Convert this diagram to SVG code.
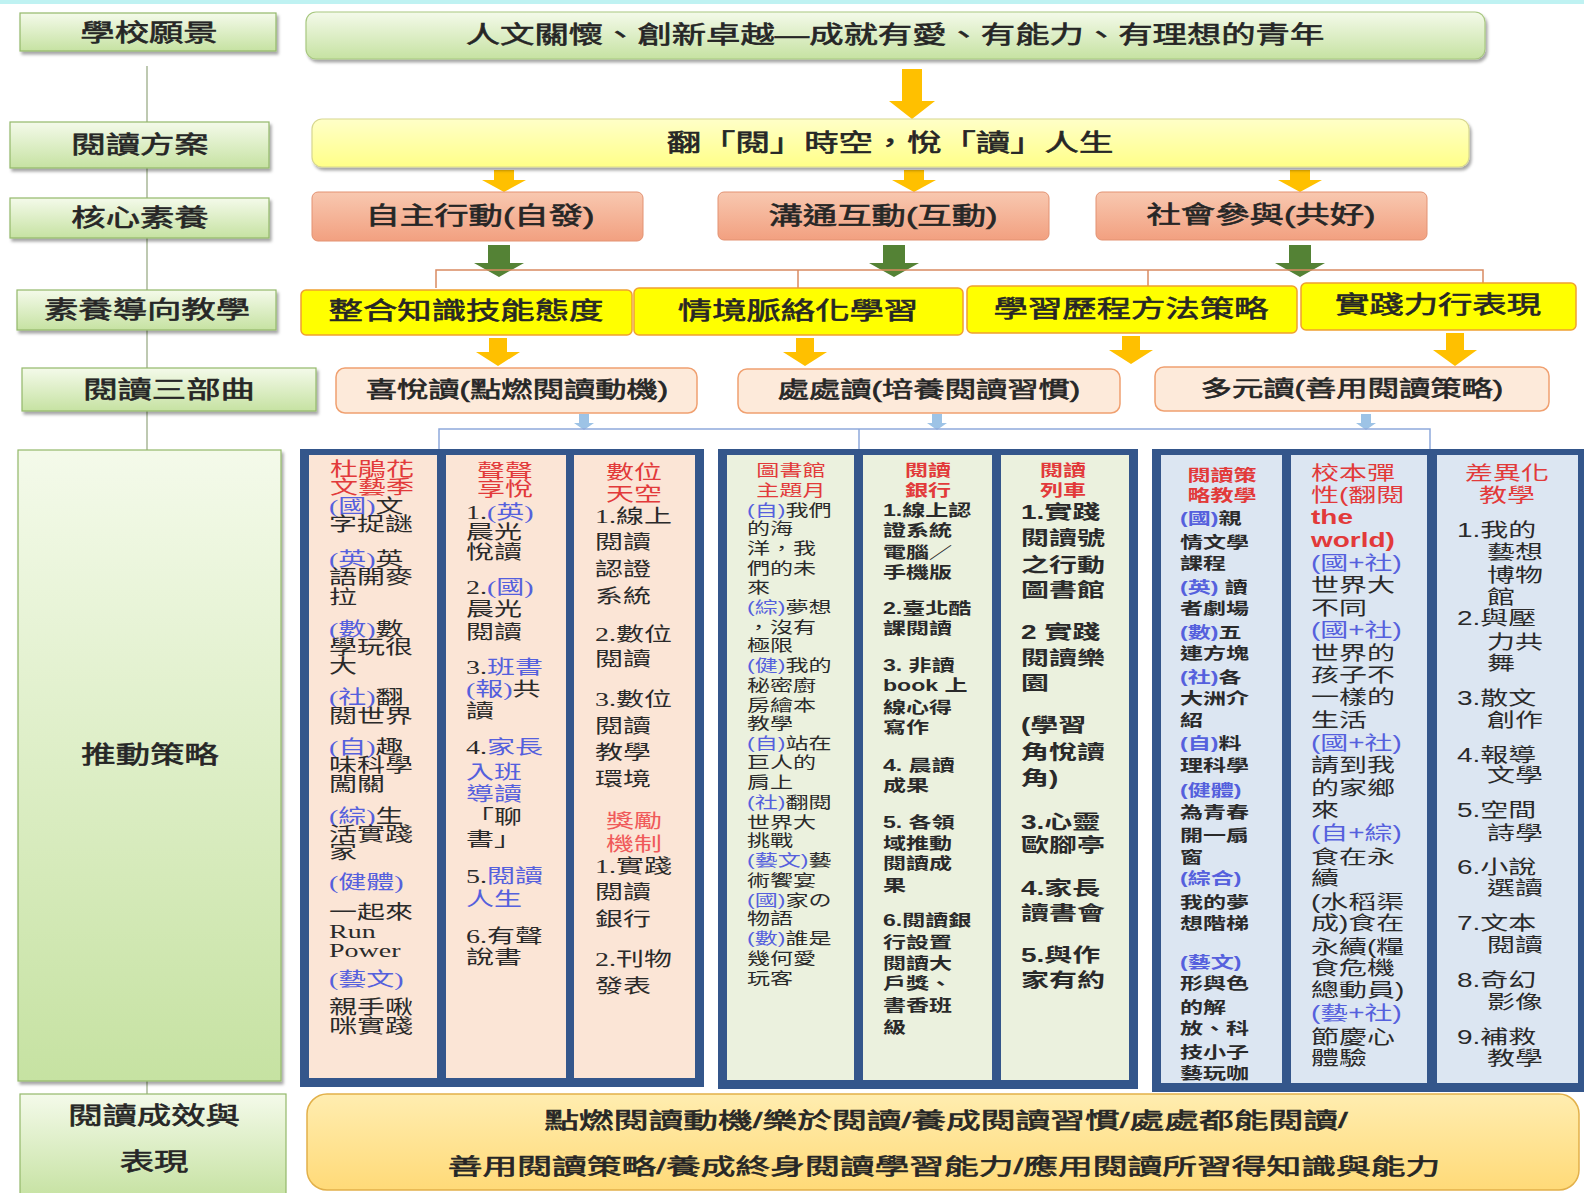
<svg xmlns="http://www.w3.org/2000/svg" width="1584" height="1193" viewBox="0 0 1584 1193">
<defs>
<linearGradient id="gGreen" x1="0" y1="0" x2="0" y2="1"><stop offset="0" stop-color="#F4FAEA"/><stop offset="1" stop-color="#C6E2A2"/></linearGradient>
<linearGradient id="gYel" x1="0" y1="0" x2="0" y2="1"><stop offset="0" stop-color="#FFFFC8"/><stop offset="1" stop-color="#FFFF88"/></linearGradient>
<linearGradient id="gSal" x1="0" y1="0" x2="0" y2="1"><stop offset="0" stop-color="#F8C8B0"/><stop offset="1" stop-color="#F2A080"/></linearGradient>
<linearGradient id="gBot" x1="0" y1="0" x2="0" y2="1"><stop offset="0" stop-color="#FFEDB0"/><stop offset="1" stop-color="#FFDA78"/></linearGradient>
<filter id="sh" x="-5%" y="-20%" width="115%" height="160%"><feDropShadow dx="2" dy="3" stdDeviation="1.5" flood-color="#000" flood-opacity="0.35"/></filter>
<style>
.lab{fill:url(#gGreen);stroke:#93B86A;stroke-width:1.2}
.h{font-family:"Liberation Sans","Noto Sans CJK TC",sans-serif;font-weight:normal;font-size:23.7px;fill:#262626;stroke:#262626;stroke-width:0.6;text-anchor:middle;dominant-baseline:central}
.h2{font-family:"Liberation Sans","Noto Sans CJK TC",sans-serif;font-weight:normal;font-size:21.6px;fill:#262626;stroke:#262626;stroke-width:0.6;text-anchor:middle;dominant-baseline:central}
.teach{fill:#FFFF00;stroke:#F0A030;stroke-width:1.5}
.tri{fill:#FDEADA;stroke:#F0A070;stroke-width:1.5}
.core{fill:url(#gSal);stroke:#E39272;stroke-width:1}
.arO{fill:#FFC000}
.arG{fill:#548235}
.arB{fill:#9DC3E6}
.lnO{stroke:#D98A62;stroke-width:1.5;fill:none}
.lnB{stroke:#8EA9DB;stroke-width:1.5;fill:none}
.lnL{stroke:#A9B898;stroke-width:1.5;fill:none}
.frame{fill:#34568B}
.c1{fill:#FBE5D6}.c2{fill:#EBF1DE}.c3{fill:#DCE6F2}
.big{font-family:"Liberation Serif","Noto Sans CJK TC",serif;font-size:19.3px;fill:#2a2a2a;dominant-baseline:central}
.bigs{font-family:"Liberation Sans","Noto Sans CJK TC",sans-serif;font-size:19.3px;fill:#2a2a2a;dominant-baseline:central}
.sm{font-family:"Liberation Sans","Noto Sans CJK TC",sans-serif;font-size:15.9px;fill:#2a2a2a;dominant-baseline:central}
.smb{font-family:"Liberation Sans","Noto Sans CJK TC",sans-serif;font-size:15.9px;font-weight:bold;fill:#2a2a2a;dominant-baseline:central}
.r{fill:#E23A3A}
.rl{fill:#F05A5A}
.b{fill:#5560DD}
.t{text-anchor:middle}
.bd{font-weight:bold}
</style>
</defs>
<rect x="0" y="0" width="1584" height="1193" fill="#FFFFFF"/>
<rect x="0" y="0" width="1584" height="4" fill="#BFF2F2"/>

<g id="connectors">
<path class="lnL" d="M147 66V122M147 168V198M147 238V290M147 330V368M147 411V450M147 1081V1094"/>
<polygon class="arO" points="902,69 922,69 922,101 935,101 912,119 889,101 902,101"/>
<polygon class="arO" points="494,170 514,170 514,180 526,180 504,192 482,180 494,180"/>
<polygon class="arO" points="904,170 924,170 924,180 936,180 914,192 892,180 904,180"/>
<polygon class="arO" points="1290,170 1310,170 1310,180 1322,180 1300,192 1278,180 1290,180"/>
<polygon class="arG" points="488,245 510,245 510,263 524,263 499,277 474,263 488,263"/>
<polygon class="arG" points="883,245 905,245 905,263 919,263 894,277 869,263 883,263"/>
<polygon class="arG" points="1289,245 1311,245 1311,263 1325,263 1300,277 1275,263 1289,263"/>
<path class="lnO" d="M436 288V270H1483V285M798 270V288M1148 270V287"/>
<polygon class="arO" points="489,338 507,338 507,352 520,352 498,366 476,352 489,352"/>
<polygon class="arO" points="796,338 814,338 814,352 827,352 805,366 783,352 796,352"/>
<polygon class="arO" points="1122,336 1140,336 1140,350 1153,350 1131,364 1109,350 1122,350"/>
<polygon class="arO" points="1446,333 1464,333 1464,350 1477,350 1455,366 1433,350 1446,350"/>
<polygon class="arB" points="579,414 589,414 589,423 594,423 584,430 574,423 579,423"/>
<polygon class="arB" points="932,414 942,414 942,423 947,423 937,430 927,423 932,423"/>
<polygon class="arB" points="1361,414 1371,414 1371,423 1376,423 1366,430 1356,423 1361,423"/>
<path class="lnB" d="M439 450V429H1430V450M859 429V450"/>
</g>

<g id="lab-vision"><rect class="lab" filter="url(#sh)" x="20" y="13" width="256" height="38"/><text class="h" transform="translate(149,33) scale(1.45,1)">學校願景</text></g>
<g id="lab-plan"><rect class="lab" filter="url(#sh)" x="10" y="122" width="259" height="46"/><text class="h" transform="translate(140,145) scale(1.45,1)">閱讀方案</text></g>
<g id="lab-core"><rect class="lab" filter="url(#sh)" x="10" y="198" width="259" height="40"/><text class="h" transform="translate(140,218) scale(1.45,1)">核心素養</text></g>
<g id="lab-teach"><rect class="lab" filter="url(#sh)" x="17" y="290" width="259" height="40"/><text class="h" transform="translate(147,310) scale(1.45,1)">素養導向教學</text></g>
<g id="lab-tri"><rect class="lab" filter="url(#sh)" x="22" y="368" width="294" height="43"/><text class="h" transform="translate(169,390) scale(1.45,1)">閱讀三部曲</text></g>
<g id="lab-strategy"><rect class="lab" filter="url(#sh)" x="18" y="450" width="263" height="631"/><text class="h" transform="translate(150,755) scale(1.45,1)">推動策略</text></g>
<g id="lab-result"><rect class="lab" x="20" y="1094" width="266" height="104"/><text class="h" transform="translate(154,1116) scale(1.45,1)">閱讀成效與</text><text class="h" transform="translate(154,1162) scale(1.45,1)">表現</text></g>

<g id="vision"><rect x="306" y="12" width="1179" height="47" rx="10" fill="url(#gGreen)" stroke="#A8C880" stroke-width="1.2" filter="url(#sh)"/><text class="h" transform="translate(895,35) scale(1.45,1)">人文關懷、創新卓越—成就有愛、有能力、有理想的青年</text></g>
<g id="plan"><rect x="312" y="119" width="1157" height="48" rx="10" fill="url(#gYel)" stroke="#D8D890" stroke-width="1.2" filter="url(#sh)"/><text class="h" transform="translate(890,143) scale(1.45,1)">翻「閱」時空，悅「讀」人生</text></g>

<g id="core1"><rect class="core" x="312" y="192" width="331" height="49" rx="6"/><text class="h" transform="translate(480,216) scale(1.45,1)">自主行動(自發)</text></g>
<g id="core2"><rect class="core" x="718" y="192" width="331" height="48" rx="6"/><text class="h" transform="translate(883,216) scale(1.45,1)">溝通互動(互動)</text></g>
<g id="core3"><rect class="core" x="1096" y="192" width="331" height="48" rx="6"/><text class="h" transform="translate(1261,215) scale(1.45,1)">社會參與(共好)</text></g>

<g id="teach1"><rect class="teach" x="301" y="290" width="331" height="45" rx="5"/><text class="h" transform="translate(466,311) scale(1.45,1)">整合知識技能態度</text></g>
<g id="teach2"><rect class="teach" x="634" y="288" width="329" height="47" rx="5"/><text class="h" transform="translate(798,311) scale(1.45,1)">情境脈絡化學習</text></g>
<g id="teach3"><rect class="teach" x="967" y="286" width="330" height="47" rx="5"/><text class="h" transform="translate(1131,309) scale(1.45,1)">學習歷程方法策略</text></g>
<g id="teach4"><rect class="teach" x="1301" y="283" width="275" height="47" rx="5"/><text class="h" transform="translate(1438,305) scale(1.45,1)">實踐力行表現</text></g>

<g id="tri1"><rect class="tri" x="336" y="368" width="361" height="45" rx="9"/><text class="h2" transform="translate(517,390) scale(1.45,1)">喜悅讀(點燃閱讀動機)</text></g>
<g id="tri2"><rect class="tri" x="738" y="369" width="382" height="44" rx="9"/><text class="h2" transform="translate(929,390) scale(1.45,1)">處處讀(培養閱讀習慣)</text></g>
<g id="tri3"><rect class="tri" x="1155" y="367" width="394" height="44" rx="9"/><text class="h2" transform="translate(1352,389) scale(1.45,1)">多元讀(善用閱讀策略)</text></g>

<g id="group1">
<rect class="frame" x="300" y="449" width="404" height="638"/>
<rect class="c1" x="309" y="455" width="128" height="623"/>
<rect class="c1" x="446" y="455" width="120" height="623"/>
<rect class="c1" x="574" y="455" width="121" height="623"/>
<g class="big" transform="translate(329,0) scale(1.45,1)">
<text class="big r t" x="29.7" y="470">杜鵑花</text>
<text class="big r t" x="29.7" y="488">文藝季</text>
<text class="big" y="507"><tspan class="b">(國)</tspan>文</text>
<text class="big" y="525">字捉謎</text>
<text class="big" y="560"><tspan class="b">(英)</tspan>英</text>
<text class="big" y="578">語開麥</text>
<text class="big" y="598">拉</text>
<text class="big" y="630"><tspan class="b">(數)</tspan>數</text>
<text class="big" y="648">學玩很</text>
<text class="big" y="667">大</text>
<text class="big" y="698"><tspan class="b">(社)</tspan>翻</text>
<text class="big" y="717">閱世界</text>
<text class="big" y="748"><tspan class="b">(自)</tspan>趣</text>
<text class="big" y="766">味科學</text>
<text class="big" y="785">闖關</text>
<text class="big" y="817"><tspan class="b">(綜)</tspan>生</text>
<text class="big" y="835">活實踐</text>
<text class="big" y="853">家</text>
<text class="big b" y="883">(健體)</text>
<text class="big" y="913">一起來</text>
<text class="big" y="932">Run</text>
<text class="big" y="951">Power</text>
<text class="big b" y="980">(藝文)</text>
<text class="big" y="1008">親手啾</text>
<text class="big" y="1027">咪實踐</text>
</g>
<g transform="translate(466,0) scale(1.45,1)">
<text class="big r t" x="26.9" y="472">聲聲</text>
<text class="big r t" x="26.9" y="490">享悅</text>
<text class="big" y="513">1.<tspan class="b">(英)</tspan></text>
<text class="big" y="533">晨光</text>
<text class="big" y="553">悅讀</text>
<text class="big" y="588">2.<tspan class="b">(國)</tspan></text>
<text class="big" y="610">晨光</text>
<text class="big" y="633">閱讀</text>
<text class="big" y="668">3.<tspan class="b">班書</tspan></text>
<text class="big" y="690"><tspan class="b">(報)</tspan>共</text>
<text class="big" y="712">讀</text>
<text class="big" y="748">4.<tspan class="b">家長</tspan></text>
<text class="big b" y="773">入班</text>
<text class="big b" y="795">導讀</text>
<text class="big" y="818">「聊</text>
<text class="big" y="840">書」</text>
<text class="big" y="877">5.<tspan class="b">閱讀</tspan></text>
<text class="big b" y="900">人生</text>
<text class="big" y="937">6.有聲</text>
<text class="big" y="958">說書</text>
</g>
<g transform="translate(595,0) scale(1.45,1)">
<text class="big r t" x="26.9" y="473">數位</text>
<text class="big r t" x="26.9" y="495">天空</text>
<text class="big" y="517">1.線上</text>
<text class="big" y="543">閱讀</text>
<text class="big" y="570">認證</text>
<text class="big" y="597">系統</text>
<text class="big" y="635">2.數位</text>
<text class="big" y="660">閱讀</text>
<text class="big" y="700">3.數位</text>
<text class="big" y="727">閱讀</text>
<text class="big" y="753">教學</text>
<text class="big" y="780">環境</text>
<text class="big rl t" x="26.9" y="822">獎勵</text>
<text class="big rl t" x="26.9" y="845">機制</text>
<text class="big" y="867">1.實踐</text>
<text class="big" y="893">閱讀</text>
<text class="big" y="920">銀行</text>
<text class="big" y="960">2.刊物</text>
<text class="big" y="987">發表</text>
</g>
</g>

<g id="group2">
<rect class="frame" x="718" y="449" width="420" height="640"/>
<rect class="c2" x="727" y="455" width="127" height="625"/>
<rect class="c2" x="863" y="455" width="129" height="625"/>
<rect class="c2" x="1001" y="455" width="128" height="625"/>
<g transform="translate(747,0) scale(1.45,1)">
<text class="sm r t" x="30.3" y="470">圖書館</text>
<text class="sm r t" x="30.3" y="490">主題月</text>
<text class="sm" y="510"><tspan class="b">(自)</tspan>我們</text>
<text class="sm" y="528">的海</text>
<text class="sm" y="548">洋，我</text>
<text class="sm" y="568">們的未</text>
<text class="sm" y="587">來</text>
<text class="sm" y="607"><tspan class="b">(綜)</tspan>夢想</text>
<text class="sm" y="627">，沒有</text>
<text class="sm" y="645">極限</text>
<text class="sm" y="665"><tspan class="b">(健)</tspan>我的</text>
<text class="sm" y="685">秘密廚</text>
<text class="sm" y="705">房繪本</text>
<text class="sm" y="723">教學</text>
<text class="sm" y="743"><tspan class="b">(自)</tspan>站在</text>
<text class="sm" y="762">巨人的</text>
<text class="sm" y="782">肩上</text>
<text class="sm" y="802"><tspan class="b">(社)</tspan>翻閱</text>
<text class="sm" y="822">世界大</text>
<text class="sm" y="840">挑戰</text>
<text class="sm" y="860"><tspan class="b">(藝文)</tspan>藝</text>
<text class="sm" y="880">術饗宴</text>
<text class="sm" y="900"><tspan class="b">(國)</tspan>家の</text>
<text class="sm" y="918">物語</text>
<text class="sm" y="938"><tspan class="b">(數)</tspan>誰是</text>
<text class="sm" y="958">幾何愛</text>
<text class="sm" y="978">玩客</text>
</g>
<g transform="translate(883,0) scale(1.45,1)">
<text class="smb r t" x="31" y="470">閱讀</text>
<text class="smb r t" x="31" y="490">銀行</text>
<text class="smb" y="510">1.線上認</text>
<text class="smb" y="530">證系統</text>
<text class="smb" y="552">電腦／</text>
<text class="smb" y="572">手機版</text>
<text class="smb" y="608">2.臺北酷</text>
<text class="smb" y="628">課閱讀</text>
<text class="smb" y="665">3. 非讀</text>
<text class="smb" y="685">book 上</text>
<text class="smb" y="707">線心得</text>
<text class="smb" y="727">寫作</text>
<text class="smb" y="765">4. 晨讀</text>
<text class="smb" y="785">成果</text>
<text class="smb" y="822">5. 各領</text>
<text class="smb" y="843">域推動</text>
<text class="smb" y="863">閱讀成</text>
<text class="smb" y="885">果</text>
<text class="smb" y="920">6.閱讀銀</text>
<text class="smb" y="942">行設置</text>
<text class="smb" y="963">閱讀大</text>
<text class="smb" y="983">戶獎、</text>
<text class="smb" y="1005">書香班</text>
<text class="smb" y="1027">級</text>
</g>
<g transform="translate(1021,0) scale(1.45,1)">
<text class="smb r t" x="29" y="470">閱讀</text>
<text class="smb r t" x="29" y="490">列車</text>
<text class="bigs bd" y="512">1.實踐</text>
<text class="bigs bd" y="538">閱讀號</text>
<text class="bigs bd" y="565">之行動</text>
<text class="bigs bd" y="590">圖書館</text>
<text class="bigs bd" y="632">2 實踐</text>
<text class="bigs bd" y="658">閱讀樂</text>
<text class="bigs bd" y="683">園</text>
<text class="bigs bd" y="725">(學習</text>
<text class="bigs bd" y="752">角悅讀</text>
<text class="bigs bd" y="778">角)</text>
<text class="bigs bd" y="822">3.心靈</text>
<text class="bigs bd" y="845">歐腳亭</text>
<text class="bigs bd" y="888">4.家長</text>
<text class="bigs bd" y="913">讀書會</text>
<text class="bigs bd" y="955">5.與作</text>
<text class="bigs bd" y="980">家有約</text>
</g>
</g>

<g id="group3">
<rect class="frame" x="1152" y="449" width="432" height="643"/>
<rect class="c3" x="1161" y="455" width="121" height="628"/>
<rect class="c3" x="1291" y="455" width="136" height="628"/>
<rect class="c3" x="1437" y="455" width="141" height="628"/>
<g transform="translate(1180,0) scale(1.45,1)">
<text class="smb r t" x="29" y="475">閱讀策</text>
<text class="smb r t" x="29" y="495">略教學</text>
<text class="smb" y="518"><tspan class="b">(國)</tspan>親</text>
<text class="smb" y="542">情文學</text>
<text class="smb" y="563">課程</text>
<text class="smb" y="587"><tspan class="b">(英)</tspan> 讀</text>
<text class="smb" y="608">者劇場</text>
<text class="smb" y="632"><tspan class="b">(數)</tspan>五</text>
<text class="smb" y="653">連方塊</text>
<text class="smb" y="677"><tspan class="b">(社)</tspan>各</text>
<text class="smb" y="698">大洲介</text>
<text class="smb" y="720">紹</text>
<text class="smb" y="743"><tspan class="b">(自)</tspan>料</text>
<text class="smb" y="765">理科學</text>
<text class="smb b" y="790">(健體)</text>
<text class="smb" y="812">為青春</text>
<text class="smb" y="835">開一扇</text>
<text class="smb" y="857">窗</text>
<text class="smb b" y="878">(綜合)</text>
<text class="smb" y="902">我的夢</text>
<text class="smb" y="923">想階梯</text>
<text class="smb b" y="962">(藝文)</text>
<text class="smb" y="983">形與色</text>
<text class="smb" y="1007">的解</text>
<text class="smb" y="1028">放、科</text>
<text class="smb" y="1052">技小子</text>
<text class="smb" y="1073">藝玩咖</text>
</g>
<g transform="translate(1311,0) scale(1.45,1)">
<text class="bigs r" y="473">校本彈</text>
<text class="bigs r" y="495">性(翻閱</text>
<text class="bigs r bd" y="517">the</text>
<text class="bigs r bd" y="540">world)</text>
<text class="bigs b" y="563">(國+社)</text>
<text class="bigs" y="585">世界大</text>
<text class="bigs" y="608">不同</text>
<text class="bigs b" y="630">(國+社)</text>
<text class="bigs" y="653">世界的</text>
<text class="bigs" y="675">孩子不</text>
<text class="bigs" y="697">一樣的</text>
<text class="bigs" y="720">生活</text>
<text class="bigs b" y="743">(國+社)</text>
<text class="bigs" y="765">請到我</text>
<text class="bigs" y="788">的家鄉</text>
<text class="bigs" y="810">來</text>
<text class="bigs b" y="833">(自+綜)</text>
<text class="bigs" y="857">食在永</text>
<text class="bigs" y="878">續</text>
<text class="bigs" y="902">(水稻渠</text>
<text class="bigs" y="923">成)食在</text>
<text class="bigs" y="947">永續(糧</text>
<text class="bigs" y="968">食危機</text>
<text class="bigs" y="990">總動員)</text>
<text class="bigs b" y="1013">(藝+社)</text>
<text class="bigs" y="1037">節慶心</text>
<text class="bigs" y="1058">體驗</text>
</g>
<g transform="translate(1457,0) scale(1.45,1)">
<text class="bigs r t" x="34.5" y="473">差異化</text>
<text class="bigs r t" x="34.5" y="495">教學</text>
<text class="bigs" y="530">1.我的</text>
<text class="bigs" x="20.7" y="552">藝想</text>
<text class="bigs" x="20.7" y="575">博物</text>
<text class="bigs" x="20.7" y="597">館</text>
<text class="bigs" y="618">2.與壓</text>
<text class="bigs" x="20.7" y="642">力共</text>
<text class="bigs" x="20.7" y="663">舞</text>
<text class="bigs" y="698">3.散文</text>
<text class="bigs" x="20.7" y="720">創作</text>
<text class="bigs" y="755">4.報導</text>
<text class="bigs" x="20.7" y="775">文學</text>
<text class="bigs" y="810">5.空間</text>
<text class="bigs" x="20.7" y="833">詩學</text>
<text class="bigs" y="867">6.小說</text>
<text class="bigs" x="20.7" y="888">選讀</text>
<text class="bigs" y="923">7.文本</text>
<text class="bigs" x="20.7" y="945">閱讀</text>
<text class="bigs" y="980">8.奇幻</text>
<text class="bigs" x="20.7" y="1002">影像</text>
<text class="bigs" y="1037">9.補救</text>
<text class="bigs" x="20.7" y="1058">教學</text>
</g>
</g>

<g id="result"><rect x="307" y="1094" width="1272" height="96" rx="20" fill="url(#gBot)" stroke="#E2B04A" stroke-width="1.5"/>
<text class="h2" transform="translate(946,1121) scale(1.61,1)">點燃閱讀動機/樂於閱讀/養成閱讀習慣/處處都能閱讀/</text>
<text class="h2" transform="translate(944,1167) scale(1.61,1)">善用閱讀策略/養成終身閱讀學習能力/應用閱讀所習得知識與能力</text>
</g>
</svg>
